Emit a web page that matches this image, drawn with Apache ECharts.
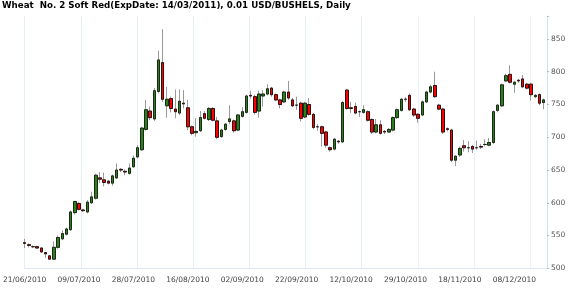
<!DOCTYPE html>
<html><head><meta charset="utf-8">
<script src="https://cdn.jsdelivr.net/npm/echarts@6/dist/echarts.min.js"></script>
<style>html,body{margin:0;padding:0;background:#fff}#c{width:570px;height:289px}</style>
</head><body><div id="c"></div>
<script>
const titleText = 'Wheat  No. 2 Soft Red(ExpDate: 14/03/2011), 0.01 USD/BUSHELS, Daily';
const tickLabels = ['21/06/2010','09/07/2010','28/07/2010','16/08/2010','02/09/2010','22/09/2010','12/10/2010','29/10/2010','18/11/2010','08/12/2010'];
const opens = [539,536,533,533,531,524,519,514,532,545,552,559,585,599,589,586,600,607,638,635,633,630,638,651,648,645,655,670,681,712,
740,728,770,814,748,759,743,737,752,745,716,707,710,736,727,744,725,701,712,724,725,711,732,738,764,762,740,763,766,775,
765,757,754,769,757,749,752,731,750,735,716,716,708,684,682,694,693,772,745,747,739,738,739,727,708,719,709,708,711,730,
741,758,764,743,735,734,754,769,779,749,743,713,711,665,673,687,684,686,684,686,689,688,692,741,748,786,796,781,787,789,
781,781,762,765,753];
const closes = [538,535,533,531,525,522,514,532,547,553,560,586,602,590,588,601,609,642,636,631,630,641,650,650,647,653,668,684,714,742,
730,771,818,758,758,744,739,755,751,716,706,709,730,729,744,726,700,711,720,728,710,734,739,763,763,738,766,766,774,765,
757,750,769,760,748,749,729,752,735,715,716,706,688,681,697,693,753,744,744,737,739,742,726,708,719,706,708,712,730,742,
758,758,742,734,729,754,769,777,762,743,708,712,665,671,683,684,684,682,684,685,689,692,739,749,780,794,784,784,786,777,
775,765,764,752,757];
const lows = [531,532,531,530,524,516,513,513,530,543,550,557,582,588,586,584,598,605,630,625,628,626,636,647,642,643,653,668,679,710,
726,725,767,754,730,738,729,734,744,711,703,701,708,727,725,724,697,699,710,720,707,709,730,736,759,735,730,747,764,762,
755,744,752,757,746,742,724,729,733,712,710,686,684,678,680,690,691,742,737,735,731,736,724,705,706,704,705,707,709,728,
739,754,740,731,722,732,752,767,760,741,705,709,662,656,670,678,677,676,681,682,686,686,690,738,746,784,782,768,783,775,
773,756,760,749,743];
const highs = [545,538,535,534,532,525,520,541,550,558,562,588,603,601,591,604,617,644,647,646,635,643,660,653,651,660,672,688,716,757,
747,775,832,865,777,762,773,773,772,757,718,729,740,740,746,746,731,713,722,749,727,735,746,765,771,765,771,772,781,777,
767,759,771,786,760,762,754,754,760,737,720,718,710,686,699,696,755,774,754,753,741,749,741,729,728,726,711,714,732,744,
760,761,767,745,737,756,771,780,800,751,745,715,713,673,686,696,694,688,695,690,697,699,741,751,782,797,810,786,789,795,
783,783,766,767,759];

const xMax = 124.8;      // index units spanned by the plot
const gridStep = 13.42;  // vertical grid line spacing (index units)
const labelStep = 13;    // date label spacing (index units)

const wickData = opens.map((o, i) => [i, o, closes[i], lows[i], highs[i]]);
const bodyData = opens.map((o, i) => [i, o, closes[i], Math.min(o, closes[i]), Math.max(o, closes[i])]);

const chart = echarts.init(document.getElementById('c'), null, {renderer: 'canvas'});
const font = 'DejaVu Sans';
const isInt = v => Math.abs(v - Math.round(v)) < 1e-6;
chart.setOption({
  animation: false,
  title: {
    text: titleText, left: 2, top: 1, padding: 0,
    textStyle: {fontFamily: font, fontSize: 8.7, fontWeight: 'bold', color: '#000'}
  },
  grid: {left: 23.3, right: 23, top: 16.06, bottom: 20.7, containLabel: false},
  xAxis: [
    {type: 'value', min: 0, max: xMax, show: false, axisLine: {onZero: false}},
    {type: 'value', min: 0, max: xMax / gridStep, interval: 1, position: 'bottom',
     axisLine: {show: true, onZero: false, lineStyle: {color: '#dbe7f2', width: 1}},
     axisTick: {show: false}, axisLabel: {show: false},
     splitLine: {show: true, lineStyle: {color: '#e8f0f7', width: 1}}
    },
    {type: 'value', min: 0, max: xMax / labelStep, interval: 1, position: 'bottom',
     axisLine: {show: false, onZero: false}, axisTick: {show: false}, splitLine: {show: false},
     axisLabel: {fontFamily: font, fontSize: 7.5, color: '#444', margin: 8,
       formatter: v => (isInt(v) && tickLabels[Math.round(v)]) ? tickLabels[Math.round(v)] : ''}
    }
  ],
  yAxis: {
    type: 'value', position: 'right', min: 500, max: 885, interval: 50,
    axisLine: {show: true, onZero: false, lineStyle: {color: '#cfe0ef'}},
    axisTick: {show: true, length: 2, lineStyle: {color: '#bbb'}},
    splitLine: {show: false},
    axisLabel: {fontFamily: font, fontSize: 7.5, color: '#555', margin: 4,
      formatter: v => (v % 50 === 0 ? String(v) : '')}
  },
  series: [
    {type: 'candlestick', xAxisIndex: 0, data: wickData, encode: {x: 0, y: [1, 2, 3, 4]},
     barWidth: 3, clip: false,
     itemStyle: {color: '#999', color0: '#999', borderColor: '#999', borderColor0: '#999', borderColorDoji: '#999', borderWidth: 1}},
    {type: 'candlestick', xAxisIndex: 0, data: bodyData, encode: {x: 0, y: [1, 2, 3, 4]},
     barWidth: 3, clip: false,
     itemStyle: {color: '#2c7f1f', color0: '#ff0000', borderColor: '#1a2a14', borderColor0: '#2a1010', borderColorDoji: '#222', borderWidth: 1}}
  ]
});
</script></body></html>
